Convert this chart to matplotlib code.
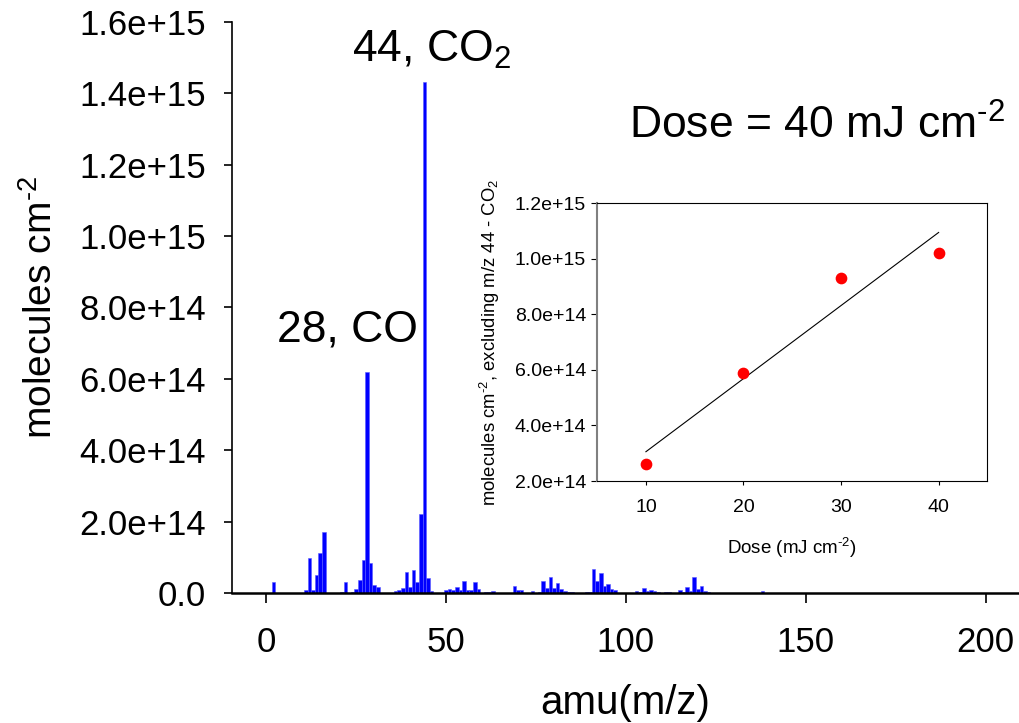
import numpy as np
import matplotlib
matplotlib.use("Agg")
import matplotlib.pyplot as plt
from matplotlib.ticker import FuncFormatter

matplotlib.rc('font', family='Liberation Sans')
matplotlib.rcParams['mathtext.fontset'] = 'custom'
matplotlib.rcParams['mathtext.rm'] = 'Liberation Sans'
matplotlib.rcParams['mathtext.it'] = 'Liberation Sans:italic'

# mass spectrum, heights in units of 1e14 molecules cm^-2
amu = [2, 11, 12, 13, 14, 15, 16, 21, 22, 24, 25, 26, 27, 28, 29, 30, 31,
       36, 37, 38, 39, 40, 41, 42, 43, 44, 45, 46, 50, 51, 52, 53, 54, 55,
       56, 57, 58, 59, 61, 62, 63, 69, 70, 71, 74, 76, 77, 78, 79, 80, 81,
       82, 83, 84, 85, 89, 90, 91, 92, 93, 94, 95, 96, 97, 103, 104, 105,
       106, 107, 108, 109, 111, 112, 115, 116, 117, 118, 119, 120, 121, 122,
       123, 138]
counts = [0.32, 0.08, 0.98, 0.09, 0.50, 1.12, 1.72, 0.04, 0.30, 0.04, 0.12,
          0.37, 0.92, 6.20, 0.85, 0.23, 0.17, 0.05, 0.08, 0.14, 0.59, 0.16,
          0.64, 0.30, 2.22, 14.32, 0.41, 0.05, 0.075, 0.12, 0.075, 0.18,
          0.08, 0.33, 0.09, 0.09, 0.32, 0.11, 0.04, 0.04, 0.065, 0.21, 0.08,
          0.08, 0.045, 0.035, 0.33, 0.13, 0.44, 0.15, 0.29, 0.10, 0.06, 0.04,
          0.04, 0.035, 0.035, 0.67, 0.34, 0.57, 0.21, 0.24, 0.10, 0.08, 0.06,
          0.03, 0.14, 0.07, 0.08, 0.07, 0.03, 0.03, 0.03, 0.085, 0.04, 0.18,
          0.06, 0.44, 0.10, 0.20, 0.065, 0.035, 0.045]

# inset: total excluding CO2 vs dose
dose = [10, 20, 30, 40]
total = [2.60e14, 5.87e14, 9.30e14, 1.022e15]

SUP = r"$^{\text{-2}}$"


def sci(v, pos):
    if v == 0:
        return "0.0"
    return "%.1e" % v


fig = plt.figure(figsize=(10.19, 7.23), dpi=100)
ax = fig.add_axes([0.2277, 0.1798, 0.7713, 0.7898])

ax.bar(amu, np.array(counts) * 1e14, width=1.0, color='#0000ff',
       edgecolor='#5a5aff', linewidth=0.4)
ax.set_xlim(-9.5, 209)
ax.set_ylim(0, 1.6e15)
ax.set_xticks([0, 50, 100, 150, 200])
ax.set_yticks(np.arange(0, 1.61e15, 2e14))
ax.yaxis.set_major_formatter(FuncFormatter(sci))
ax.spines['top'].set_visible(False)
ax.spines['right'].set_visible(False)
ax.spines['left'].set_linewidth(1.2)
ax.spines['bottom'].set_linewidth(1.8)
ax.tick_params(axis='x', direction='out', length=7, width=1.2, labelsize=25, pad=17)
ax.tick_params(axis='y', direction='out', length=6, width=1.2, labelsize=25, pad=13)
ax.set_xlabel("amu(m/z)", fontsize=29, labelpad=18)
ax.set_ylabel("molecules cm" + SUP, fontsize=28, labelpad=14)

ax.text(46.1, 1.488e15, "44, CO$_2$", fontsize=32, ha='center', va='baseline')
ax.text(22.6, 7.06e14, "28, CO", fontsize=32, ha='center', va='baseline')
ax.text(153.2, 1.272e15, "Dose = 40 mJ cm" + SUP, fontsize=32,
        ha='center', va='baseline')

# inset
ins = fig.add_axes([0.586, 0.3347, 0.383, 0.3845])
ins.scatter(dose, total, s=55, color='#ff0000', zorder=3)
k, b = np.polyfit(dose, total, 1)
xf = np.array([10, 40])
ins.plot(xf, k * xf + b, color='black', linewidth=0.8)
ins.set_xlim(5, 45)
ins.set_ylim(2e14, 1.2e15)
ins.set_xticks([10, 20, 30, 40])
ins.set_yticks(np.arange(2e14, 1.21e15, 2e14))
ins.yaxis.set_major_formatter(FuncFormatter(sci))
ins.spines['left'].set_color('#808080')
ins.spines['left'].set_linewidth(1.5)
ins.tick_params(axis='y', direction='out', length=4, labelsize=14, pad=4)
ins.tick_params(axis='x', direction='out', length=3, labelsize=14, pad=10)
ins.set_xlabel("Dose (mJ cm" + SUP + ")", fontsize=13.5, labelpad=14)
ins.set_ylabel("molecules cm" + SUP + r", excluding m/z 44 - CO$_2$",
               fontsize=13.3, labelpad=9)

fig.savefig("out.png", dpi=100)
